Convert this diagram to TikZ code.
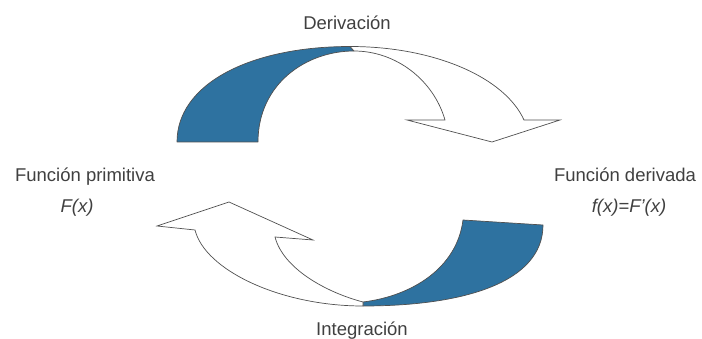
\documentclass[tikz,border=0pt]{standalone}
\usepackage{fontspec}
\setmainfont{Liberation Sans}
\definecolor{bandblue}{HTML}{2E72A0}
\definecolor{txtgray}{HTML}{404040}
\definecolor{edgegray}{HTML}{505050}
\begin{document}
\begin{tikzpicture}[x=1pt,y=-1pt,
  lbl/.style={inner sep=0pt,anchor=base,text=txtgray,font=\fontsize{18.5}{22}\selectfont},
  lblit/.style={lbl,font=\fontsize{18.5}{22}\selectfont\itshape},
  blueband/.style={fill=bandblue,draw=edgegray,line width=0.7pt,line join=round},
  whiteband/.style={fill=white,draw=edgegray,line width=0.7pt,line join=miter}]
\useasboundingbox (0,0) rectangle (702,339);
% top arrow (Derivacion)
\path[blueband] (177,142) -- (258,142) .. controls (258,84) and (306,51) .. (354,51)
  -- (350,46.5) .. controls (250,46.5) and (177,84) .. (177,142) -- cycle;
\path[whiteband] (350,46.5) .. controls (434,46.5) and (504.6,77.2) .. (524,120)
  -- (560,120) -- (492,142) -- (407,120) -- (445,120)
  .. controls (433.5,80) and (396,51) .. (354,51) -- cycle;
% bottom arrow (Integracion)
\path[blueband] (463,220) -- (543,225) .. controls (543,282) and (465,306) .. (363,306)
  -- (363,302) .. controls (412,296) and (457,268) .. (463,220) -- cycle;
\path[whiteband] (363,306) .. controls (280,306) and (205,270) .. (195,230)
  -- (157,226) -- (229,202) -- (313,240) -- (275,237)
  .. controls (283,268) and (325,292) .. (363,302) -- cycle;
% labels
\node[lbl] (deriv) at (347,30) {Derivación};
\node[lbl] (integ) at (362,335) {Integración};
\node[lbl] (prim) at (85,182) {Función primitiva};
\node[lblit] (primf) at (77,213) {F(x)};
\node[lbl] (derv) at (625,182) {Función derivada};
\node[lblit] (dervf) at (629,213) {f(x)=F'(x)};
\end{tikzpicture}
\end{document}
